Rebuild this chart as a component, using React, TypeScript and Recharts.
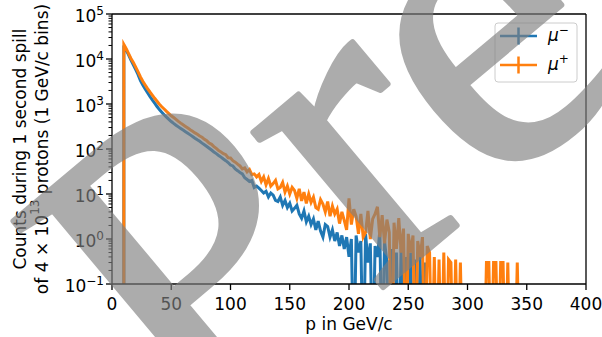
import React from "react";
import { LineChart, Line, XAxis, YAxis, ReferenceLine } from "recharts";

const W = 602;
const H = 337;
const FONT = "DejaVu Sans, sans-serif";
const BLUE = "#1f77b4";
const ORANGE = "#ff7f0e";

// momentum bins in GeV/c: first bin at 10, then every 2
const pStart = 10;
const pStep = 2;

// counts per bin (0 = empty bin)
const muMinus = [
  20000, 15800, 12300, 9400, 7400, 5800, 4500, 3300, 2650, 2150,
  1780, 1470, 1230, 1040, 880, 750, 655, 575, 510, 455,
  408, 370, 338, 310, 285, 263, 243, 224, 206, 190,
  174, 160, 148, 135, 124, 114, 104, 95, 86, 79,
  72, 66, 60, 55, 50, 44, 42, 36, 33, 30,
  28, 23, 21, 19, 20, 14, 15, 13.5, 12, 10.5,
  11.5, 8.6, 10.5, 9.4, 7.2, 6.8, 8.6, 5.6, 7.2, 5,
  6.2, 4.2, 4.8, 5.6, 3.6, 2.9, 4.2, 2.4, 3.2, 2.1,
  2.8, 1.6, 2.5, 1.5, 1.1, 2.1, 1.9, 1.1, 1.6, 0.9,
  1.4, 0.7, 1.2, 0.6, 1.1, 0.4, 1, 0, 1.2, 0.5,
  0.9, 0, 1.3, 0.3, 0.8, 0, 0.7, 0.4, 1.5, 0,
  0.9, 0.3, 0, 0.6, 0, 0.5, 0, 0.7, 0, 0.4,
  0, 0.5, 0, 0.35, 0, 0.4, 0, 0.3, 0, 0,
  0, 0, 0, 0, 0, 0, 0, 0, 0, 0,
  0, 0, 0, 0, 0, 0, 0, 0, 0, 0,
  0, 0, 0, 0, 0, 0, 0, 0, 0, 0,
  0, 0, 0, 0, 0, 0, 0, 0,
];

const muPlus = [
  21000, 17000, 13200, 10300, 8400, 6600, 5200, 4000, 3200, 2650,
  2200, 1850, 1580, 1340, 1150, 990, 870, 775, 685, 612,
  548, 500, 455, 412, 376, 345, 318, 292, 268, 248,
  228, 212, 194, 182, 164, 152, 136, 127, 113, 103,
  92, 86, 79, 75, 64, 63, 55, 51, 46, 42,
  36, 38, 31, 35, 27, 28, 24, 27, 19, 24,
  16, 22, 15, 17, 20, 13, 14, 18, 11, 15,
  10, 14, 12, 8, 13, 7, 11, 6.2, 10, 6.5,
  8.5, 5, 4.6, 7.5, 6, 4, 6.8, 3.2, 5.4, 3.6,
  4.6, 2.2, 4, 2.6, 1.6, 8, 2.1, 4.6, 3.2, 1.3,
  3.6, 1.1, 1.4, 4.2, 1, 2.8, 3.6, 5.2, 1.1, 3.4,
  0.8, 2.7, 1.4, 0, 2.3, 0.6, 2.9, 0.5, 1.7, 0,
  1.3, 0.5, 1.2, 0, 0.9, 0.4, 1.1, 0, 0.7, 0.5,
  0, 0.4, 0, 0.35, 0, 0.5, 0, 0.35, 0.3, 0,
  0.35, 0, 0.3, 0, 0, 0, 0, 0, 0, 0,
  0, 0, 0, 0.3, 0.3, 0, 0.3, 0.3, 0, 0.3,
  0.3, 0, 0.3, 0, 0, 0, 0.3, 0,
];

const xTicks = [0, 50, 100, 150, 200, 250, 300, 350, 400];
const yDecades = [0.1, 1, 10, 100, 1000, 10000, 100000];
const yExponents = ["\u22121", "0", "1", "2", "3", "4", "5"];
const yMinor = yDecades
  .slice(0, -1)
  .flatMap((d) => [2, 3, 4, 5, 6, 7, 8, 9].map((m) => +(d * m).toPrecision(3)));

const series = [
  { key: "mum", color: BLUE, sup: "\u2212" },
  { key: "mup", color: ORANGE, sup: "+" },
];

const FLOOR = 1e-3; // empty bins go below the axis and get clipped

const data = [
  { p: pStart, mum: FLOOR, mup: FLOOR },
  ...muMinus.map((v, i) => ({
    p: pStart + pStep * i,
    mum: v > 0 ? v : FLOOR,
    mup: muPlus[i] > 0 ? muPlus[i] : FLOOR,
  })),
];

function YTick({ x, y, payload }: any) {
  const idx = yDecades.indexOf(payload.value);
  if (idx < 0) {
    return <line x1={x} x2={x - 3.5} y1={y} y2={y} stroke="#000" strokeWidth={1} />;
  }
  return (
    <g>
      <line x1={x} x2={x - 6} y1={y} y2={y} stroke="#000" strokeWidth={1.3} />
      <text x={x - 8} y={y + 8} textAnchor="end" fontFamily={FONT} fontSize={17} fill="#000">
        10
        <tspan dy={-7} fontSize={12}>
          {yExponents[idx]}
        </tspan>
      </text>
    </g>
  );
}

function XTick({ x, y, payload }: any) {
  return (
    <g>
      <line x1={x} x2={x} y1={y} y2={y + 6} stroke="#000" strokeWidth={1.3} />
      <text x={x} y={y + 26} textAnchor="middle" fontFamily={FONT} fontSize={17} fill="#000">
        {payload.value}
      </text>
    </g>
  );
}

function XTitle({ viewBox }: any) {
  return (
    <text
      x={viewBox.x + viewBox.width / 2}
      y={viewBox.y + 45.5}
      textAnchor="middle"
      fontFamily={FONT}
      fontSize={17}
      fill="#000"
    >
      p in GeV/c
    </text>
  );
}

function YTitle({ viewBox }: any) {
  const cy = viewBox.y + viewBox.height / 2;
  return (
    <g fontFamily={FONT} fontSize={17} fill="#000">
      <text x={19.5} y={cy} textAnchor="middle" dominantBaseline="central" transform={`rotate(-90 19.5 ${cy})`}>
        Counts during 1 second spill
      </text>
      <text x={42} y={cy} textAnchor="middle" dominantBaseline="central" transform={`rotate(-90 42 ${cy})`}>
        of 4 × 10
        <tspan dy={-7} fontSize={12}>
          13
        </tspan>
        <tspan dy={7}> protons (1 GeV/c bins)</tspan>
      </text>
    </g>
  );
}

export default function App() {
  return (
    <div style={{ position: "absolute", left: 0, top: 0, width: W, height: H, background: "#fff", overflow: "hidden" }}>
      <LineChart width={W} height={H} data={data} margin={{ top: 14, right: 16, bottom: 0, left: 0 }}>
        <XAxis
          dataKey="p"
          type="number"
          domain={[0, 400]}
          ticks={xTicks}
          interval={0}
          height={53}
          tickSize={0}
          tickMargin={0}
          tickLine={false}
          axisLine={{ stroke: "#000", strokeWidth: 1.3 }}
          tick={<XTick />}
          label={{ content: XTitle }}
        />
        <YAxis
          type="number"
          scale="log"
          domain={[0.1, 100000]}
          allowDataOverflow
          ticks={[...yDecades, ...yMinor]}
          interval={0}
          width={112}
          tickSize={0}
          tickMargin={0}
          tickLine={false}
          axisLine={{ stroke: "#000", strokeWidth: 1.3 }}
          tick={<YTick />}
          label={{ content: YTitle }}
        />
        <ReferenceLine y={100000} stroke="#000" strokeWidth={1.3} />
        <ReferenceLine x={400} stroke="#000" strokeWidth={1.3} />
        {series.map((s) => (
          <Line
            key={s.key}
            dataKey={s.key}
            type="linear"
            stroke={s.color}
            strokeWidth={3}
            dot={false}
            isAnimationActive={false}
          />
        ))}
      </LineChart>
      <svg
        width={W}
        height={H}
        style={{ position: "absolute", left: 0, top: 0, pointerEvents: "none" }}
      >
        <rect x={495} y={23} width={82} height={59} rx={3} fill="#fff" fillOpacity={0.8} stroke="#ccc" />
        {series.map((s, k) => {
          const cy = 36 + 29 * k;
          return (
            <g key={s.key}>
              <line x1={500} x2={537} y1={cy} y2={cy} stroke={s.color} strokeWidth={2.5} />
              <line x1={518.5} x2={518.5} y1={cy - 8.5} y2={cy + 8.5} stroke={s.color} strokeWidth={2.5} />
              <text x={548} y={cy + 5} fontFamily={FONT} fontSize={17} fill="#000">
                <tspan fontStyle="italic">μ</tspan>
                <tspan dy={-7} fontSize={12}>
                  {s.sup}
                </tspan>
              </text>
            </g>
          );
        })}
        <g opacity={0.65}>
          <text
            x={189}
            y={450}
            transform="rotate(-40 189 450)"
            fontFamily="Liberation Serif"
            fontSize={440}
            fill="#808080"
            stroke="#808080"
            strokeWidth={6}
            strokeLinejoin="round"
          >
            Preliminary
          </text>
        </g>
      </svg>
    </div>
  );
}
